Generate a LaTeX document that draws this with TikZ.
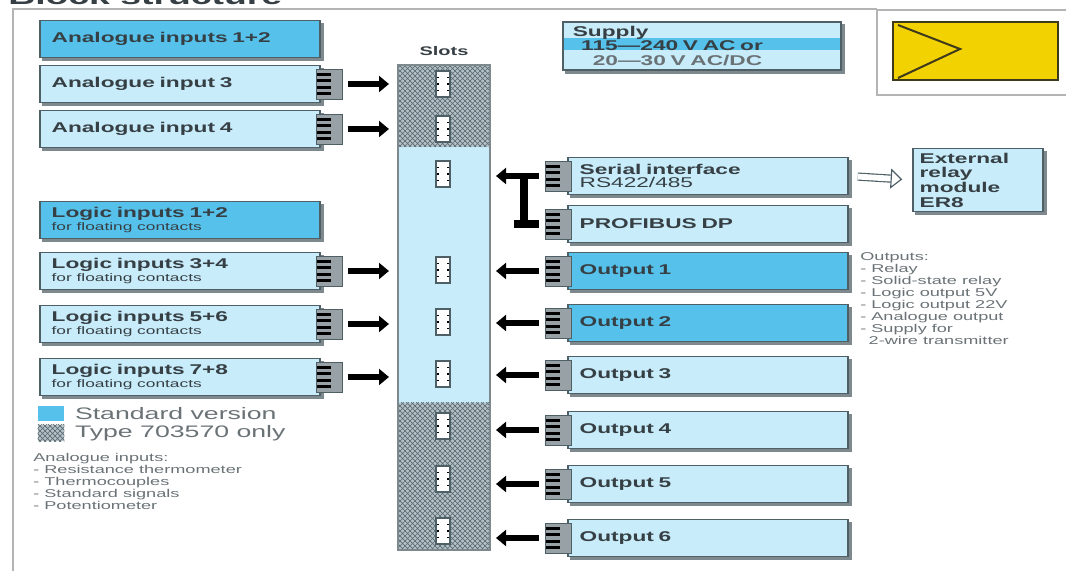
\documentclass[tikz,border=0pt]{standalone}
\usepackage{fontspec}
\setmainfont{Liberation Sans}[FakeStretch=1.6]
\usetikzlibrary{positioning,calc,patterns,arrows.meta}

\definecolor{lightblue}{HTML}{C8ECFA}
\definecolor{midblue}{HTML}{56C2EC}
\definecolor{edge}{HTML}{4F5F66}
\definecolor{shade}{HTML}{7E898E}
\definecolor{boxtext}{HTML}{363F44}
\definecolor{notegray}{HTML}{6A7276}
\definecolor{hatchbase}{HTML}{B4C2C8}
\definecolor{hatchline}{HTML}{5C6B72}
\definecolor{framegray}{HTML}{B4B4B4}
\definecolor{logoyellow}{HTML}{F2D200}
\definecolor{logoedge}{HTML}{3F3A1C}

\newcommand{\subtxt}[1]{{\mdseries\fontsize{6.5}{7}\selectfont #1}}

\tikzset{
  modbox/.style={rectangle, draw=edge, line width=0.9pt, fill=lightblue,
    minimum width=168pt, minimum height=22pt, text width=154pt, inner xsep=7pt,
    inner ysep=1pt, align=left, text=boxtext,
    font=\bfseries\fontsize{8.5}{9}\selectfont,
    preaction={fill=shade, draw=shade, transform canvas={shift={(1.8pt,-1.8pt)}}}},
  stdbox/.style={modbox, fill=midblue},
  comb/.style={rectangle, minimum width=16pt, minimum height=18pt, inner sep=0pt,
    fill=shade!80, draw=edge, line width=0.5pt,
    path picture={
      \foreach \f in {0.18,0.39,0.61,0.82}
        \draw[line width=1.8pt, black]
          ($(path picture bounding box.north west)!\f!(path picture bounding box.south west)$) -- ++(9pt,0);
    }},
  slotpin/.style={rectangle, draw=edge, line width=1.2pt, fill=white,
    minimum width=8.5pt, minimum height=16pt, inner sep=0pt,
    path picture={
      \foreach \f in {0.25,0.5,0.75} {
        \draw[line width=0.9pt, black]
          ($(path picture bounding box.north west)!\f!(path picture bounding box.south west)$) -- ++(2pt,0);
        \draw[line width=0.9pt, black]
          ($(path picture bounding box.north east)!\f!(path picture bounding box.south east)$) -- ++(-2pt,0);
      }
    }},
  hatch/.style={fill=hatchbase, postaction={pattern=crosshatch, pattern color=hatchline}},
  slotcol/.style={rectangle, draw=shade, line width=1.4pt, minimum width=55pt,
    minimum height=291pt, inner sep=0pt},
  bigarrow/.style={line width=4pt, -{Triangle[length=6pt,width=9.5pt]}},
  inarrow/.style={bigarrow, shorten <=3pt, shorten >=4.8pt},
  outarrow/.style={bigarrow, shorten <=3.6pt, shorten >=3pt},
  hollowarrow/.style={draw=edge, line width=0.7pt, double=white, double distance=3.5pt,
    -{Triangle[open, length=7pt, width=12pt, fill=white]}, shorten <=5.4pt, shorten >=6pt},
  note/.style={anchor=north west, align=left, inner sep=0pt, text=notegray,
    font=\fontsize{6.8}{7.2}\selectfont},
  legtxt/.style={inner sep=0pt, text=notegray, font=\fontsize{10}{11}\selectfont}
}

\begin{document}
\begin{tikzpicture}[x=0.6pt,y=-0.6pt]
  \useasboundingbox (0,0) rectangle (1066,571);
  \clip (0,0) rectangle (1066,571);

  % frame and title
  \draw[framegray, line width=1.2pt] (13,575) -- (13,9) -- (877,9);
  \node[anchor=base west, inner sep=0pt, text=boxtext, font=\bfseries\fontsize{14}{14}\selectfont] (title) at (8,5) {Block structure};

  % logo
  \draw[framegray, line width=1.2pt] (877,10) rectangle (1080,95);
  \filldraw[fill=logoyellow, draw=logoedge, line width=1.5pt] (893,22) rectangle (1058,80);
  \draw[logoedge, line width=1.2pt] (898,25) -- (960,49) -- (898,78);

  % slot column
  \fill[lightblue] (398,147) rectangle (490,403);
  \path[hatch] (398,65) rectangle (490,147);
  \path[hatch] (398,403) rectangle (490,550);
  \node[slotcol] (slots) at (444,307.5) {};
  \node[inner sep=0pt, text=boxtext, font=\bfseries\fontsize{7.5}{8}\selectfont, above=5pt of slots] (slotlbl) {Slots};
  \foreach \y [count=\i] in {84,129,174,270,322,374,426,479,531}
    \node[slotpin] (s\i) at (443,\y) {};

  % inputs
  \node[stdbox] (ai12) at (180,39) {Analogue inputs 1+2};
  \node[modbox] (ai3) at (180,84) {Analogue input 3};
  \node[modbox] (ai4) at (180,129) {Analogue input 4};
  \node[stdbox] (li12) at (180,220) {Logic inputs 1+2\\[-1pt]\subtxt{for floating contacts}};
  \node[modbox] (li34) at (180,271) {Logic inputs 3+4\\[-1pt]\subtxt{for floating contacts}};
  \node[modbox] (li56) at (180,324) {Logic inputs 5+6\\[-1pt]\subtxt{for floating contacts}};
  \node[modbox] (li78) at (180,377) {Logic inputs 7+8\\[-1pt]\subtxt{for floating contacts}};
  \foreach \n in {ai3,ai4,li34,li56,li78} {
    \node[comb, right=-3pt of \n] (\n-c) {};
    \draw[inarrow] (\n-c.east) -- (\n-c.east -| slots.west);
  }

  % outputs and interfaces
  \node[modbox] (ser) at (708,176) {Serial interface\\[-1pt]{\mdseries RS422/485}};
  \node[modbox] (pdp) at (708,224) {PROFIBUS DP};
  \node[stdbox] (out1) at (708,271) {Output 1};
  \node[stdbox] (out2) at (708,323) {Output 2};
  \node[modbox] (out3) at (708,375) {Output 3};
  \node[modbox] (out4) at (708,430) {Output 4};
  \node[modbox] (out5) at (708,484) {Output 5};
  \node[modbox] (out6) at (708,538) {Output 6};
  \foreach \n in {ser,pdp,out1,out2,out3,out4,out5,out6}
    \node[comb, left=-3pt of \n] (\n-c) {};
  \foreach \n in {ser,out1,out2,out3,out4,out5,out6}
    \draw[outarrow] (\n-c.west) -- (\n-c.west -| slots.east);
  \coordinate (brk) at ($(ser-c.west)+(-21,0)$);
  \draw[line width=4.5pt] (brk) -- (brk |- pdp-c.west);
  \draw[line width=4.5pt, shorten <=3.6pt] (pdp-c.west) -- ++(-31,0);

  % supply
  \node[modbox, minimum width=167pt, text width=155pt, minimum height=29pt, inner xsep=6pt,
    inner ysep=0pt, font=\bfseries\fontsize{8.5}{8.8}\selectfont,
    path picture={\fill[midblue]
      ($(path picture bounding box.north west)!0.33!(path picture bounding box.south west)$) rectangle
      ($(path picture bounding box.north east)!0.58!(path picture bounding box.south east)$);}]
    (supply) at (702,46) {Supply\\\hspace*{5pt}115—240 V AC or\\\hspace*{12pt}{\color{notegray}20—30 V AC/DC}};

  % relay module
  \node[modbox, minimum width=78pt, text width=70pt, minimum height=38pt, inner xsep=4pt,
    inner ysep=0pt, font=\bfseries\fontsize{8.5}{8.8}\selectfont]
    (ext) at (978,180) {External\\relay\\module\\ER8};
  \draw[hollowarrow] (ser.east) -- (ext.west);

  % legend
  \node[rectangle, fill=midblue, minimum width=16pt, minimum height=9pt, inner sep=0pt] (leg1) at (51,414) {};
  \node[legtxt, right=6pt of leg1] (leg1txt) {Standard version};
  \node[rectangle, hatch, minimum width=16pt, minimum height=10pt, inner sep=0pt] (leg2) at (51,433) {};
  \node[legtxt, right=6pt of leg2] (leg2txt) {Type 703570 only};

  % notes
  \node[note] (ainote) at (33,453) {Analogue inputs:\\- Resistance thermometer\\- Thermocouples\\- Standard signals\\- Potentiometer};
  \node[note] (outnote) at (860,252) {Outputs:\\- Relay\\- Solid-state relay\\- Logic output 5V\\- Logic output 22V\\- Analogue output\\- Supply for\\\hspace*{5pt}2-wire transmitter};
\end{tikzpicture}
\end{document}
